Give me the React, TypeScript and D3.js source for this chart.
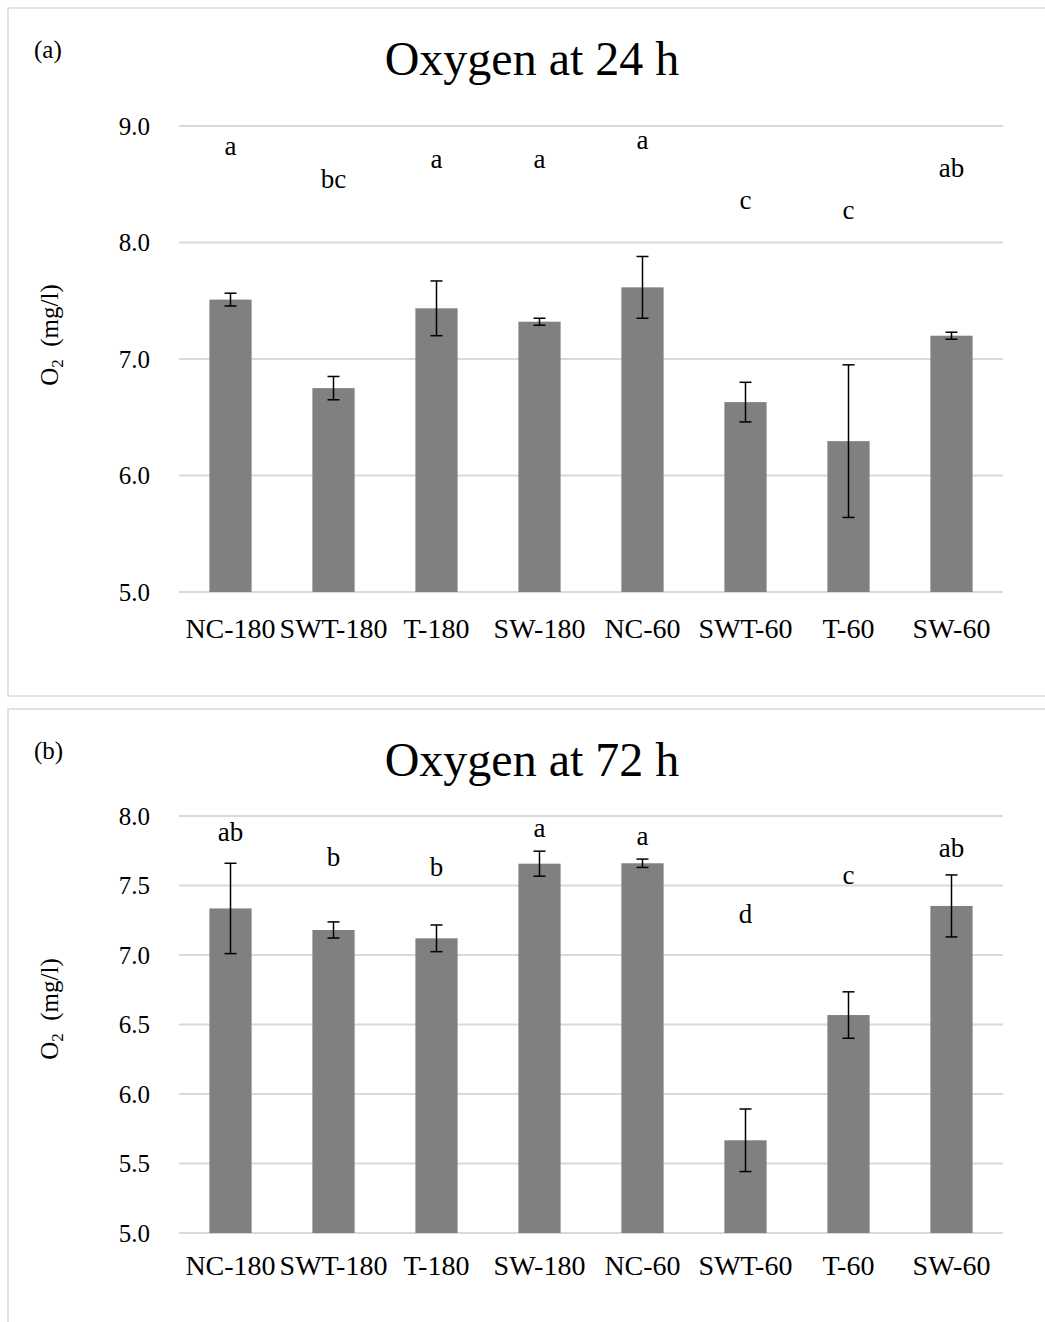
import React from 'react';
import * as d3 from 'd3';

const categories = ['NC-180', 'SWT-180', 'T-180', 'SW-180', 'NC-60', 'SWT-60', 'T-60', 'SW-60'];

const means24 = [7.51, 6.75, 7.435, 7.32, 7.615, 6.63, 6.295, 7.2];
const err24 = [0.055, 0.1, 0.235, 0.03, 0.265, 0.17, 0.655, 0.03];
const letters24 = ['a', 'bc', 'a', 'a', 'a', 'c', 'c', 'ab'];
const letterLevel24 = [8.82, 8.54, 8.71, 8.71, 8.87, 8.36, 8.27, 8.63];
const ticks24 = [5, 6, 7, 8, 9];

const means72 = [7.335, 7.18, 7.12, 7.657, 7.66, 5.667, 6.568, 7.353];
const err72 = [0.325, 0.058, 0.096, 0.09, 0.03, 0.225, 0.167, 0.223];
const letters72 = ['ab', 'b', 'b', 'a', 'a', 'd', 'c', 'ab'];
const letterLevel72 = [7.88, 7.7, 7.63, 7.91, 7.85, 7.29, 7.57, 7.76];
const ticks72 = [5, 5.5, 6, 6.5, 7, 7.5, 8];

const FONT = '"Liberation Serif", "Times New Roman", serif';

type PanelProps = {
  top: number;
  tag: string;
  title: string;
  means: number[];
  errs: number[];
  letters: string[];
  letterLevels: number[];
  ticks: number[];
  yMax: number;
  plotTop: number;
  plotBottom: number;
  xLabelY: number;
  yLabelCenter: number;
  boxHeight: number;
};

function Panel(p: PanelProps) {
  const x = d3.scaleBand<string>().domain(categories).range([179, 1003]).paddingInner(0.59).paddingOuter(0.295);
  const y = d3.scaleLinear().domain([5, p.yMax]).range([p.plotBottom, p.plotTop]);
  const bw = x.bandwidth();
  const fmt = d3.format('.1f');
  return (
    <g>
      <rect x={8} y={p.top} width={1100} height={p.boxHeight} fill="#fff" stroke="#d9d9d9" strokeWidth={1.5} />
      <text x={34} y={p.top + 50} fontFamily={FONT} fontSize={25} fill="#000">{p.tag}</text>
      <text x={532} y={p.top + 67} fontFamily={FONT} fontSize={48} textAnchor="middle" fill="#000">{p.title}</text>
      {p.ticks.map((t) => (
        <g key={t}>
          <line x1={179} x2={1003} y1={y(t)} y2={y(t)} stroke="#d9d9d9" strokeWidth={2} />
          <text x={150} y={y(t)} dy="0.35em" textAnchor="end" fontFamily={FONT} fontSize={25} fill="#000">{fmt(t)}</text>
        </g>
      ))}
      {categories.map((c, i) => {
        const cx = (x(c) as number) + bw / 2;
        const v = p.means[i];
        const e = p.errs[i];
        return (
          <g key={c}>
            <rect x={x(c)} y={y(v)} width={bw} height={y(5) - y(v)} fill="#808080" />
            <line x1={cx} x2={cx} y1={y(v + e)} y2={y(v - e)} stroke="#000" strokeWidth={1.5} />
            <line x1={cx - 6} x2={cx + 6} y1={y(v + e)} y2={y(v + e)} stroke="#000" strokeWidth={1.5} />
            <line x1={cx - 6} x2={cx + 6} y1={y(v - e)} y2={y(v - e)} stroke="#000" strokeWidth={1.5} />
            <text x={cx} y={y(p.letterLevels[i])} dy="0.3em" textAnchor="middle" fontFamily={FONT} fontSize={27} fill="#000">{p.letters[i]}</text>
            <text x={cx} y={p.xLabelY} dy="0.35em" textAnchor="middle" fontFamily={FONT} fontSize={28} fill="#000">{c}</text>
          </g>
        );
      })}
      <text transform={`translate(58,${p.yLabelCenter}) rotate(-90)`} textAnchor="middle" fontFamily={FONT} fontSize={25} fill="#000">
        O<tspan fontSize={17} dy={5}>2</tspan><tspan dy={-5}>{'\u00a0\u00a0(mg/l)'}</tspan>
      </text>
    </g>
  );
}

export default function App() {
  return (
    <svg width={1045} height={1322} style={{ position: 'absolute', left: 0, top: 0, background: '#fff' }}>
      <rect width={1045} height={1322} fill="#fff" />
      <Panel
        top={8}
        tag="(a)"
        title="Oxygen at 24 h"
        means={means24}
        errs={err24}
        letters={letters24}
        letterLevels={letterLevel24}
        ticks={ticks24}
        yMax={9}
        plotTop={126}
        plotBottom={592}
        xLabelY={628}
        yLabelCenter={335}
        boxHeight={688}
      />
      <Panel
        top={709}
        tag="(b)"
        title="Oxygen at 72 h"
        means={means72}
        errs={err72}
        letters={letters72}
        letterLevels={letterLevel72}
        ticks={ticks72}
        yMax={8}
        plotTop={816}
        plotBottom={1233}
        xLabelY={1265}
        yLabelCenter={1009}
        boxHeight={700}
      />
    </svg>
  );
}
